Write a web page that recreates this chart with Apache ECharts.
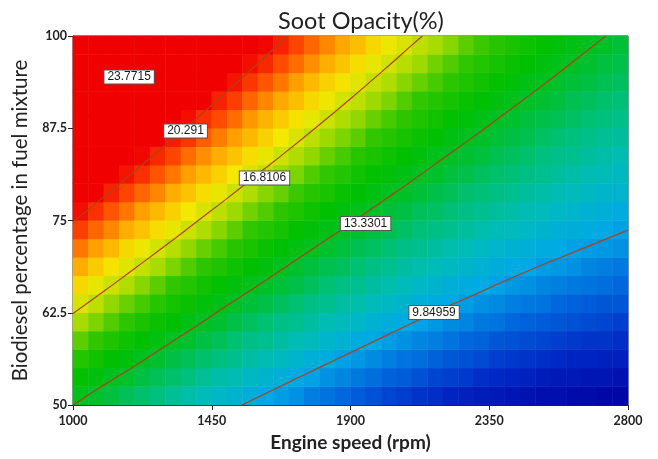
<!DOCTYPE html>
<html>
<head>
<meta charset="utf-8">
<script src="https://cdn.jsdelivr.net/npm/echarts@6/dist/echarts.min.js"></script>
<style>html,body{margin:0;padding:0;background:#fff}#c{width:658px;height:459px}</style>
</head>
<body>
<div id="c"></div>
<script>
// Cell centres: engine speed (rpm) and biodiesel share (%)
const speedCenters = [1025,1075,1125,1175,1225,1275,1325,1375,1425,1475,1525,1575,1625,1675,1725,1775,1825,1875,1925,1975,2025,2075,2125,2175,2225,2275,2325,2375,2425,2475,2525,2575,2625,2675,2725,2775];
const biodieselCenters = [51.25,53.75,56.25,58.75,61.25,63.75,66.25,68.75,71.25,73.75,76.25,78.75,81.25,83.75,86.25,88.75,91.25,93.75,96.25,98.75];
// Soot opacity (%): one list per engine speed, biodiesel from 50 to 100 %
const sootOpacity = [
  [13.5,14.2,14.9,15.6,16.3,17.0,17.7,18.4,19.1,19.8,20.5,21.2,21.9,22.6,23.3,24.0,24.6,25.3,26.0,26.7],
  [13.1,13.8,14.5,15.2,15.9,16.6,17.2,17.9,18.6,19.3,20.0,20.7,21.4,22.1,22.7,23.4,24.1,24.8,25.5,26.2],
  [12.8,13.4,14.1,14.8,15.5,16.1,16.8,17.5,18.2,18.9,19.5,20.2,20.9,21.6,22.2,22.9,23.6,24.3,24.9,25.6],
  [12.4,13.1,13.8,14.4,15.1,15.7,16.4,17.1,17.7,18.4,19.1,19.7,20.4,21.1,21.7,22.4,23.1,23.7,24.4,25.1],
  [12.1,12.7,13.4,14.0,14.7,15.4,16.0,16.7,17.3,18.0,18.6,19.3,20.0,20.6,21.3,21.9,22.6,23.2,23.9,24.5],
  [11.8,12.4,13.0,13.7,14.3,15.0,15.6,16.3,16.9,17.6,18.2,18.9,19.5,20.1,20.8,21.4,22.1,22.7,23.4,24.0],
  [11.4,12.1,12.7,13.3,14.0,14.6,15.2,15.9,16.5,17.2,17.8,18.4,19.1,19.7,20.3,21.0,21.6,22.2,22.9,23.5],
  [11.1,11.8,12.4,13.0,13.6,14.3,14.9,15.5,16.1,16.8,17.4,18.0,18.6,19.2,19.9,20.5,21.1,21.7,22.4,23.0],
  [10.8,11.4,12.1,12.7,13.3,13.9,14.5,15.1,15.7,16.4,17.0,17.6,18.2,18.8,19.4,20.0,20.7,21.3,21.9,22.5],
  [10.5,11.1,11.8,12.4,13.0,13.6,14.2,14.8,15.4,16.0,16.6,17.2,17.8,18.4,19.0,19.6,20.2,20.8,21.4,22.0],
  [10.3,10.9,11.5,12.0,12.6,13.2,13.8,14.4,15.0,15.6,16.2,16.8,17.4,18.0,18.6,19.2,19.8,20.4,20.9,21.5],
  [10.0,10.6,11.2,11.7,12.3,12.9,13.5,14.1,14.7,15.2,15.8,16.4,17.0,17.6,18.2,18.7,19.3,19.9,20.5,21.1],
  [9.7,10.3,10.9,11.5,12.0,12.6,13.2,13.8,14.3,14.9,15.5,16.0,16.6,17.2,17.8,18.3,18.9,19.5,20.1,20.6],
  [9.5,10.1,10.6,11.2,11.7,12.3,12.9,13.4,14.0,14.6,15.1,15.7,16.2,16.8,17.4,17.9,18.5,19.1,19.6,20.2],
  [9.3,9.8,10.4,10.9,11.5,12.0,12.6,13.1,13.7,14.2,14.8,15.3,15.9,16.4,17.0,17.5,18.1,18.6,19.2,19.7],
  [9.0,9.6,10.1,10.7,11.2,11.7,12.3,12.8,13.4,13.9,14.4,15.0,15.5,16.1,16.6,17.2,17.7,18.2,18.8,19.3],
  [8.8,9.3,9.9,10.4,10.9,11.5,12.0,12.5,13.1,13.6,14.1,14.7,15.2,15.7,16.2,16.8,17.3,17.8,18.4,18.9],
  [8.6,9.1,9.6,10.2,10.7,11.2,11.7,12.3,12.8,13.3,13.8,14.3,14.9,15.4,15.9,16.4,16.9,17.5,18.0,18.5],
  [8.4,8.9,9.4,9.9,10.5,11.0,11.5,12.0,12.5,13.0,13.5,14.0,14.5,15.0,15.6,16.1,16.6,17.1,17.6,18.1],
  [8.2,8.7,9.2,9.7,10.2,10.7,11.2,11.7,12.2,12.7,13.2,13.7,14.2,14.7,15.2,15.7,16.2,16.7,17.2,17.7],
  [8.0,8.5,9.0,9.5,10.0,10.5,11.0,11.5,12.0,12.5,12.9,13.4,13.9,14.4,14.9,15.4,15.9,16.4,16.9,17.3],
  [7.9,8.4,8.8,9.3,9.8,10.3,10.8,11.2,11.7,12.2,12.7,13.2,13.6,14.1,14.6,15.1,15.5,16.0,16.5,17.0],
  [7.7,8.2,8.7,9.1,9.6,10.1,10.5,11.0,11.5,11.9,12.4,12.9,13.3,13.8,14.3,14.8,15.2,15.7,16.2,16.6],
  [7.6,8.0,8.5,9.0,9.4,9.9,10.3,10.8,11.2,11.7,12.2,12.6,13.1,13.5,14.0,14.5,14.9,15.4,15.8,16.3],
  [7.4,7.9,8.3,8.8,9.2,9.7,10.1,10.6,11.0,11.5,11.9,12.4,12.8,13.3,13.7,14.2,14.6,15.1,15.5,16.0],
  [7.3,7.8,8.2,8.6,9.1,9.5,9.9,10.4,10.8,11.3,11.7,12.1,12.6,13.0,13.4,13.9,14.3,14.8,15.2,15.6],
  [7.2,7.6,8.1,8.5,8.9,9.3,9.8,10.2,10.6,11.0,11.5,11.9,12.3,12.8,13.2,13.6,14.0,14.5,14.9,15.3],
  [7.1,7.5,7.9,8.3,8.8,9.2,9.6,10.0,10.4,10.8,11.3,11.7,12.1,12.5,12.9,13.3,13.8,14.2,14.6,15.0],
  [7.0,7.4,7.8,8.2,8.6,9.0,9.4,9.8,10.2,10.7,11.1,11.5,11.9,12.3,12.7,13.1,13.5,13.9,14.3,14.7],
  [6.9,7.3,7.7,8.1,8.5,8.9,9.3,9.7,10.1,10.5,10.9,11.3,11.7,12.1,12.5,12.8,13.2,13.6,14.0,14.4],
  [6.8,7.2,7.6,8.0,8.4,8.8,9.1,9.5,9.9,10.3,10.7,11.1,11.5,11.8,12.2,12.6,13.0,13.4,13.8,14.2],
  [6.8,7.1,7.5,7.9,8.3,8.6,9.0,9.4,9.8,10.1,10.5,10.9,11.3,11.6,12.0,12.4,12.8,13.1,13.5,13.9],
  [6.7,7.1,7.4,7.8,8.2,8.5,8.9,9.3,9.6,10.0,10.4,10.7,11.1,11.5,11.8,12.2,12.5,12.9,13.3,13.6],
  [6.7,7.0,7.4,7.7,8.1,8.4,8.8,9.1,9.5,9.9,10.2,10.6,10.9,11.3,11.6,12.0,12.3,12.7,13.0,13.4],
  [6.6,7.0,7.3,7.7,8.0,8.3,8.7,9.0,9.4,9.7,10.1,10.4,10.8,11.1,11.4,11.8,12.1,12.5,12.8,13.2],
  [6.6,6.9,7.3,7.6,7.9,8.3,8.6,8.9,9.3,9.6,9.9,10.3,10.6,10.9,11.3,11.6,11.9,12.3,12.6,12.9]
];
// Contour lines [rpm, biodiesel %]
const contour23 = [[1000,87.2],[1100,91.0],[1200,94.8],[1300,98.8],[1330,100]];
const contour20 = [[1000,74.8],[1100,78.2],[1200,81.7],[1300,85.2],[1400,88.8],[1500,92.5],[1600,96.3],[1694,100]];
const contour16 = [[1000,62.4],[1100,65.4],[1200,68.5],[1300,71.6],[1400,74.8],[1500,78.0],[1600,81.3],[1700,84.6],[1800,88.0],[1900,91.5],[2000,95.1],[2100,98.8],[2133,100]];
const contour13 = [[1000,50.0],[1100,52.7],[1200,55.3],[1300,58.0],[1400,60.7],[1500,63.5],[1600,66.2],[1700,69.0],[1800,71.8],[1900,74.6],[2000,77.5],[2100,80.4],[2200,83.4],[2300,86.4],[2400,89.5],[2500,92.6],[2600,95.8],[2700,99.1],[2727,100]];
const contour9 = [[1548,50],[1600,51.05],[1700,53.1],[1800,55.1],[1900,57.1],[2000,59.1],[2100,61.1],[2200,63.1],[2300,64.9],[2400,66.8],[2500,68.6],[2600,70.3],[2700,72.0],[2800,73.7]];
// Contour labels
const contourLevels = ['23.7715','20.291','16.8106','13.3301','9.84959'];
const labelSpeed = [1182,1365,1621,1949,2171];
const labelBiodiesel = [94.45,87.13,80.76,74.59,62.53];
// Axis ticks
const xTicks = [1000,1450,1900,2350,2800];
const yTicks = [50,62.5,75,87.5,100];

const heatData = [];
sootOpacity.forEach((col, m) => col.forEach((v, j) => heatData.push([m, j, v])));
const labelData = contourLevels.map((t, i) => [labelSpeed[i], labelBiodiesel[i], t]);

const lineColor = '#b0401a';
const mkLine = (d, c) => ({
  type: 'line', xAxisIndex: 1, yAxisIndex: 1, data: d, smooth: true, symbol: 'none',
  lineStyle: { color: c || lineColor, width: 1.2 }, silent: true, z: 3
});

const chart = echarts.init(document.getElementById('c'), null, { renderer: 'canvas' });
chart.setOption({
  animation: false,
  backgroundColor: '#fff',
  graphic: [{
    type: 'text', x: 361, y: 21, z: 10,
    style: { text: 'Soot Opacity(%)', textAlign: 'center', textVerticalAlign: 'middle',
      font: '23.5px Lato, "Open Sans", sans-serif', fill: '#222' }
  }],
  grid: { left: 73, right: 30, top: 36, bottom: 54, show: true, borderColor: '#333', borderWidth: 1, backgroundColor: 'transparent' },
  visualMap: {
    show: false, type: 'continuous', seriesIndex: 0, dimension: 2, min: 6.4, max: 28.4,
    inRange: { color: ['#0000a0','#0028c4','#0068dc','#00a8e6','#00bcb8','#00c078','#00c030','#00c000','#30c600','#a8dc00','#f4e800','#ffa800','#ff4c00','#f00000','#f00000','#f00000','#f00000','#f00000','#f00000','#f00000','#f00000'] }
  },
  xAxis: [
    { type: 'category', data: speedCenters, show: false },
    { type: 'value', min: xTicks[0], max: xTicks[xTicks.length - 1], interval: xTicks[1] - xTicks[0], position: 'bottom',
      axisLine: { show: true, lineStyle: { color: '#222', width: 1 } },
      axisTick: { show: true, length: 5, lineStyle: { color: '#222' } },
      splitLine: { show: false },
      axisLabel: { color: '#222', fontWeight: 'bold', fontSize: 12.5, fontFamily: 'Lato, sans-serif', margin: 9, formatter: v => String(v) },
      name: 'Engine speed (rpm)', nameLocation: 'middle', nameGap: 28,
      nameTextStyle: { color: '#222', fontWeight: 'bold', fontSize: 19, fontFamily: 'Lato, sans-serif' } }
  ],
  yAxis: [
    { type: 'category', data: biodieselCenters, show: false },
    { type: 'value', min: yTicks[0], max: yTicks[yTicks.length - 1], interval: yTicks[1] - yTicks[0], position: 'left',
      axisLine: { show: true, lineStyle: { color: '#222', width: 1 } },
      axisTick: { show: true, length: 5, lineStyle: { color: '#222' } },
      splitLine: { show: false },
      axisLabel: { color: '#222', fontWeight: 'bold', fontSize: 12.5, fontFamily: 'Lato, sans-serif', margin: 6, formatter: v => String(v) },
      name: 'Biodiesel percentage in fuel mixture', nameLocation: 'middle', nameGap: 38, nameRotate: 90,
      nameTextStyle: { color: '#222', fontSize: 20.5, fontFamily: 'Lato, sans-serif' } }
  ],
  series: [
    { type: 'heatmap', xAxisIndex: 0, yAxisIndex: 0, data: heatData, silent: true, z: 1 },
    mkLine(contour23, '#f00000'),
    mkLine(contour20),
    mkLine(contour16),
    mkLine(contour13),
    mkLine(contour9),
    { type: 'scatter', xAxisIndex: 1, yAxisIndex: 1, data: labelData, symbol: 'rect', symbolSize: 1, itemStyle: { color: '#ffffff', opacity: 1 }, z: 5, silent: true,
      label: { show: true, position: 'inside', formatter: p => p.data[2], color: '#1a1a1a', fontSize: 12, opacity: 1,
        fontFamily: 'Arial, "Liberation Sans", sans-serif', backgroundColor: '#ffffff', borderColor: '#555', borderWidth: 1,
        padding: [1, 3, 0, 3] },
      emphasis: { disabled: true } }
  ]
});
</script>
</body>
</html>
